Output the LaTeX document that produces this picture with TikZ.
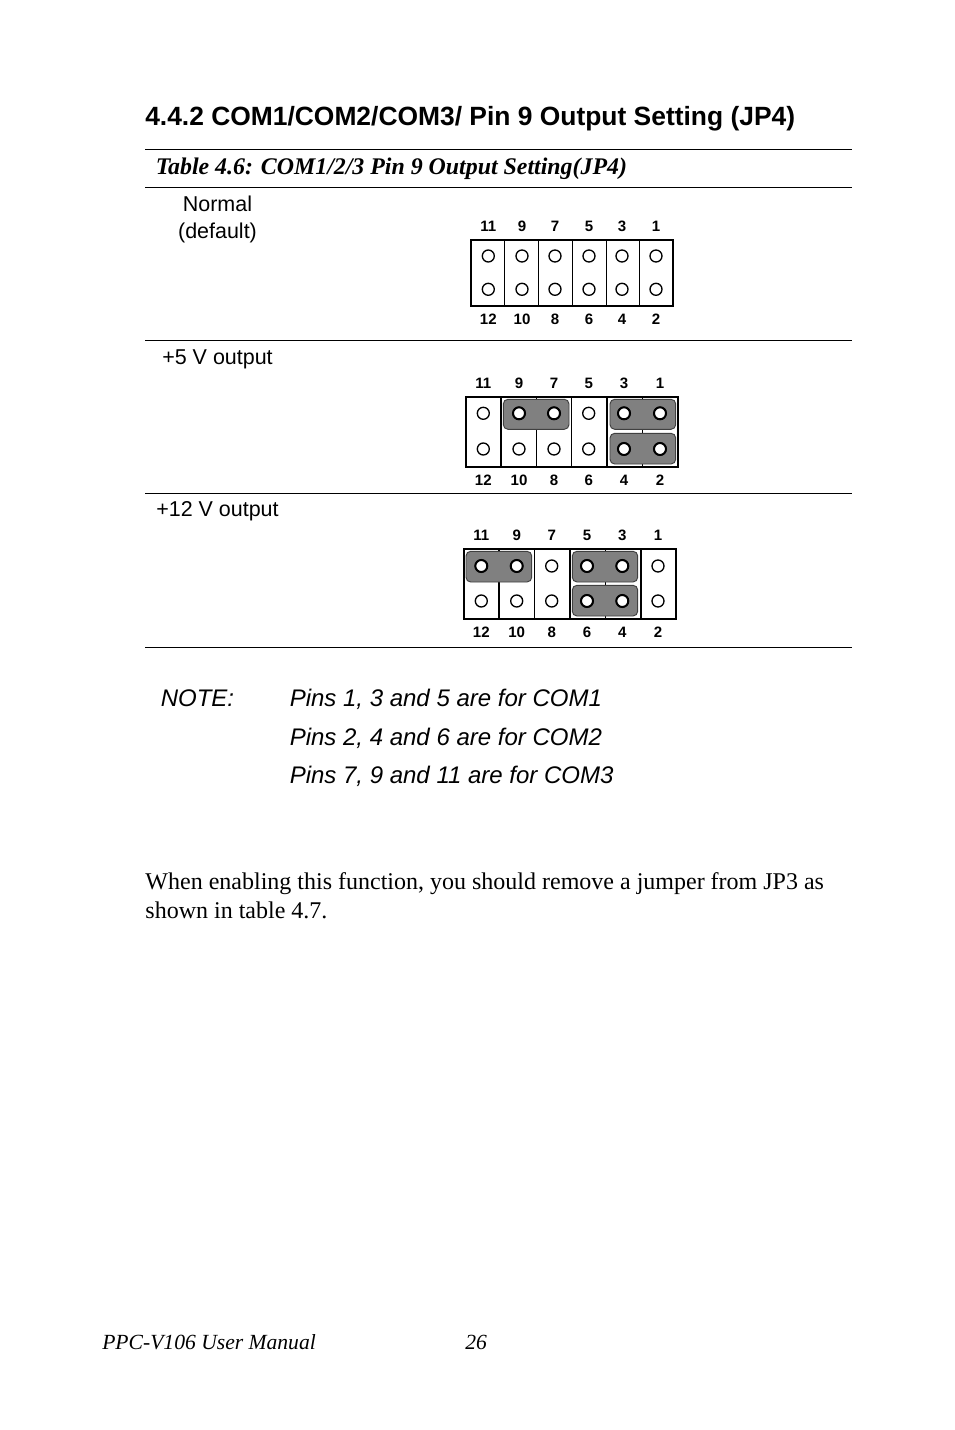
\documentclass[tikz,border=0pt]{standalone}
\usepackage{fontspec}
\setmainfont{Liberation Serif}
\setsansfont{Liberation Sans}
\tikzset{
  headline/.style={anchor=base west,inner sep=0pt,font=\sffamily\bfseries\fontsize{19.8}{23}\selectfont},
  caption/.style={anchor=base west,inner sep=0pt,font=\rmfamily\bfseries\itshape\fontsize{17.9}{21}\selectfont},
  setting/.style={anchor=base,inner sep=0pt,font=\sffamily\fontsize{16.1}{19}\selectfont},
  note/.style={anchor=base west,inner sep=0pt,font=\sffamily\itshape\fontsize{18}{22}\selectfont},
  body/.style={anchor=base west,inner sep=0pt,font=\rmfamily\fontsize{18}{22}\selectfont},
  footer/.style={anchor=base west,inner sep=0pt,font=\rmfamily\itshape\fontsize{16.2}{20}\selectfont},
  pinlabel/.style={inner sep=0pt,font=\sffamily\bfseries\fontsize{11.3}{13}\selectfont},
  pin/.style={circle,draw=black,fill=white,line width=1pt,minimum size=9pt,inner sep=0pt},
  setpin/.style={pin,line width=1.5pt},
  jumper/.style={draw=black!75,fill=black!50,rounded corners=3.5pt,line width=0.7pt},
  frame/.style={draw=black,line width=1.3pt},
  divider/.style={draw=black,line width=0.7pt},
  thickdivider/.style={draw=black,line width=1.3pt},
  rule/.style={draw=black,line width=0.6pt}
}
\begin{document}
\begin{tikzpicture}[x=0.75pt,y=-0.75pt]
\useasboundingbox (0,0) rectangle (954,1430);
% heading and table
\node[headline] (title) at (145,126) {4.4.2 COM1/COM2/COM3/ Pin 9 Output Setting (JP4)};
\node[caption] (tabletitle) at (155.5,175) {Table 4.6: COM1/2/3 Pin 9 Output Setting(JP4)};
\foreach \y/\n in {149.6/a,187/b,340/c,493/d,647/e} {
  \draw[rule] (145,\y) -- (852,\y);
}
\node[setting] (normal) at (217.5,211.5) {Normal};
\node[setting] (default) at (217.5,238.5) {(default)};
\node[setting] (five) at (217.5,364.5) {+5 V output};
\node[setting] (twelve) at (217.5,516) {+12 V output};
% normal
\foreach \x in {504.3,538.3,572,606,639} {
  \draw[divider] (\x,240) -- (\x,306);
}
\draw[frame] (470.7,240) rectangle (673.3,306);
\foreach \x/\t/\b in {488.3/11/12,522/9/10,555/7/8,589/5/6,622/3/4,656/1/2} {
  \node[pinlabel] (na\t) at (\x,226.5) {\t};
  \node[pinlabel] (na\b) at (\x,319) {\b};
  \node[pin] (pa\t) at (\x,256) {};
  \node[pin] (pa\b) at (\x,289.3) {};
}
% +5 V
\foreach \x in {536.3,571.7,642.3} {
  \draw[divider] (\x,397.3) -- (\x,466.7);
}
\foreach \x in {500.7,606.7} {
  \draw[thickdivider] (\x,397.3) -- (\x,466.7);
}
\draw[frame] (465.7,397.3) rectangle (677.7,466.7);
\draw[jumper] (503.3,399.3) rectangle (569,429.3);
\draw[jumper] (610,399.3) rectangle (675.7,429.3);
\draw[jumper] (610,433.3) rectangle (675.7,464);
\foreach \x/\t/\b in {483.3/11/12,519/9/10,554/7/8,588.7/5/6,624/3/4,660/1/2} {
  \node[pinlabel] (nb\t) at (\x,383.5) {\t};
  \node[pinlabel] (nb\b) at (\x,480.5) {\b};
  \node[pin] (pb\t) at (\x,413.3) {};
  \node[pin] (pb\b) at (\x,449) {};
}
\foreach \x/\l in {519/9,554/7,624/3,660/1} {
  \node[setpin] at (\x,413.3) {};
}
\foreach \x/\l in {624/4,660/2} {
  \node[setpin] at (\x,449) {};
}
% +12 V
\foreach \x in {534.3,605.3} {
  \draw[divider] (\x,548.7) -- (\x,619);
}
\foreach \x in {499,569.7,640.7} {
  \draw[thickdivider] (\x,548.7) -- (\x,619);
}
\draw[frame] (463.7,548.7) rectangle (676,619);
\draw[jumper] (466,551.3) rectangle (531.7,582);
\draw[jumper] (572.3,551.3) rectangle (637.7,582);
\draw[jumper] (572.3,585.3) rectangle (637.7,616);
\foreach \x/\t/\b in {481.3/11/12,516.7/9/10,551.7/7/8,587/5/6,622.3/3/4,658/1/2} {
  \node[pinlabel] (nc\t) at (\x,535.5) {\t};
  \node[pinlabel] (nc\b) at (\x,632.5) {\b};
  \node[pin] (pc\t) at (\x,566) {};
  \node[pin] (pc\b) at (\x,601) {};
}
\foreach \x/\l in {481.3/11,516.7/9,587/5,622.3/3} {
  \node[setpin] at (\x,566) {};
}
\foreach \x/\l in {587/6,622.3/4} {
  \node[setpin] at (\x,601) {};
}
% note and text
\node[note] (notehead) at (160.5,706) {NOTE:};
\node[note] (noteone) at (289.5,706) {Pins 1, 3 and 5 are for COM1};
\node[note] (notetwo) at (289.5,745) {Pins 2, 4 and 6 are for COM2};
\node[note] (notethree) at (289.5,783) {Pins 7, 9 and 11 are for COM3};
\node[body] (textone) at (145.2,889) {When enabling this function, you should remove a jumper from JP3 as};
\node[body] (texttwo) at (145.2,918) {shown in table 4.7.};
\node[footer] (manual) at (102,1349) {PPC-V106 User Manual};
\node[footer] (page) at (465,1349) {26};
\end{tikzpicture}
\end{document}
